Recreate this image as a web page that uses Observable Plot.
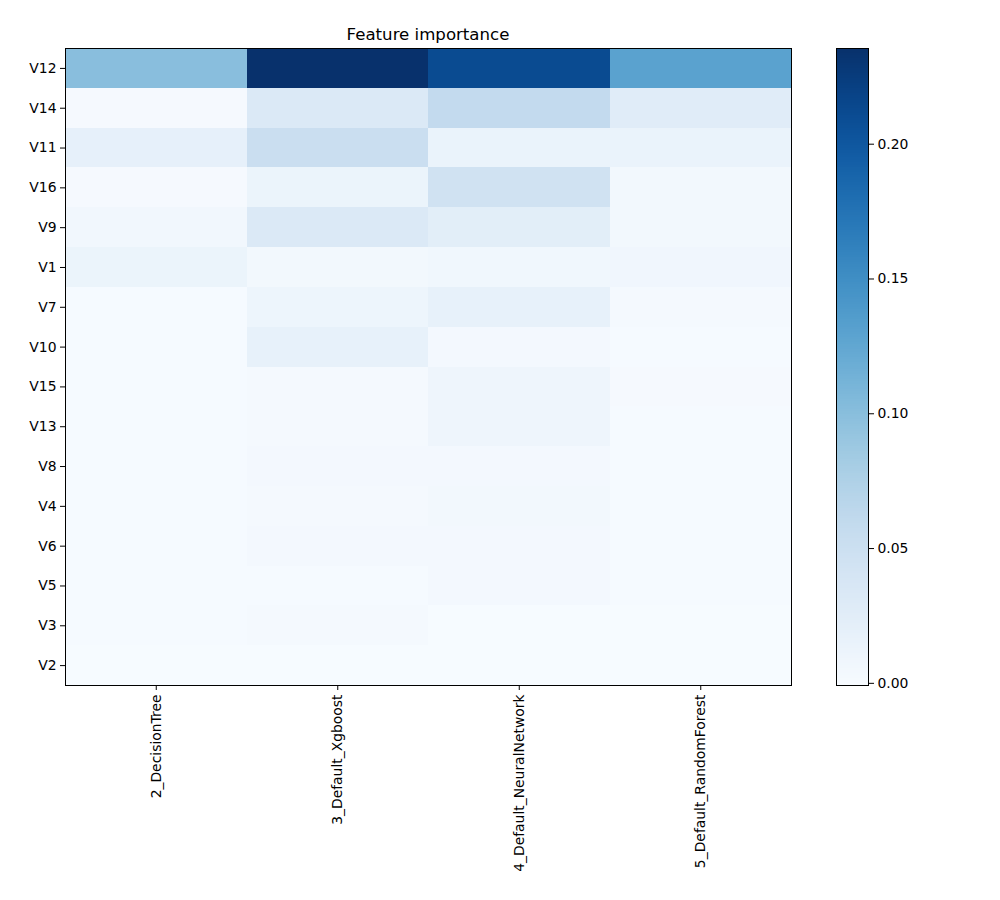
<!DOCTYPE html>
<html>
<head>
<meta charset="utf-8">
<script src="https://cdn.jsdelivr.net/npm/d3@7"></script>
<script src="https://cdn.jsdelivr.net/npm/@observablehq/plot@0.6"></script>
<style>
  body { margin: 0; background: #fff; font-family: "DejaVu Sans", sans-serif; }
  #wrap { position: relative; width: 1000px; height: 900px; }
  #title { position: absolute; left: 65px; width: 726px; top: 25px; text-align: center; font-size: 16.6px; line-height: 20px; color: #000; }
  #main { position: absolute; left: 0; top: 0; }
  #cbar { position: absolute; left: 836px; top: 0; }
</style>
</head>
<body>
<div id="wrap">
  <div id="title">Feature importance</div>
  <div id="main"></div>
  <div id="cbar"></div>
</div>
<script>
const models = ["2_DecisionTree", "3_Default_Xgboost", "4_Default_NeuralNetwork", "5_Default_RandomForest"];
const features = ["V12", "V14", "V11", "V16", "V9", "V1", "V7", "V10", "V15", "V13", "V8", "V4", "V6", "V5", "V3", "V2"];
const decisionTree   = [0.100, 0.002, 0.019, 0.002, 0.006, 0.013, 0.001, 0.001, 0.001, 0.001, 0.001, 0.001, 0.001, 0.001, 0.001, 0.000];
const xgboost        = [0.235, 0.033, 0.052, 0.013, 0.033, 0.005, 0.011, 0.018, 0.003, 0.003, 0.004, 0.003, 0.004, 0.001, 0.003, 0.000];
const neuralNetwork  = [0.211, 0.059, 0.014, 0.045, 0.024, 0.007, 0.018, 0.004, 0.010, 0.010, 0.004, 0.005, 0.004, 0.004, 0.000, 0.000];
const randomForest   = [0.130, 0.026, 0.014, 0.005, 0.005, 0.008, 0.003, 0.001, 0.002, 0.001, 0.001, 0.001, 0.001, 0.001, 0.000, 0.000];
const colorbarTicks = [0, 0.05, 0.10, 0.15, 0.20];

const series = [decisionTree, xgboost, neuralNetwork, randomForest];
const cells = [];
models.forEach((m, i) => features.forEach((f, j) => cells.push({model: m, feature: f, value: series[i][j]})));

const domain = [-0.0008, 0.2355];
const colorOpts = {type: "linear", scheme: "blues", domain};
const font = "DejaVu Sans, sans-serif";

const main = Plot.plot({
  width: 1000, height: 900,
  marginTop: 48, marginLeft: 65, marginRight: 209, marginBottom: 215,
  style: {fontFamily: font, fontSize: "13.9px", color: "#000", background: "transparent"},
  x: {domain: models, padding: 0, round: false, label: null, tickRotate: -90, tickSize: 5, tickPadding: 4},
  y: {domain: features, padding: 0, round: false, label: null, tickSize: 5, tickPadding: 4},
  color: colorOpts,
  marks: [
    Plot.cell(cells, {x: "model", y: "feature", fill: "value", inset: 0, shapeRendering: "crispEdges"}),
    Plot.frame({stroke: "black", strokeWidth: 1})
  ]
});
document.getElementById("main").appendChild(main);

// colorbar
const steps = d3.range(256).map(i => {
  const a = domain[0] + (domain[1] - domain[0]) * i / 256;
  const b = domain[0] + (domain[1] - domain[0]) * (i + 1) / 256;
  return {y1: a, y2: b, v: (a + b) / 2};
});
const cbar = Plot.plot({
  width: 120, height: 900,
  marginTop: 48, marginBottom: 215, marginLeft: 0, marginRight: 88,
  style: {fontFamily: font, fontSize: "13.9px", color: "#000", background: "transparent"},
  x: {domain: [0, 1], axis: null},
  y: {domain, axis: "right", ticks: colorbarTicks, tickFormat: d3.format(".2f"), label: null, tickSize: 5, tickPadding: 4},
  color: colorOpts,
  marks: [
    Plot.rectY(steps, {x1: 0, x2: 1, y1: "y1", y2: "y2", fill: "v", shapeRendering: "crispEdges"}),
    Plot.frame({stroke: "black", strokeWidth: 1})
  ]
});
document.getElementById("cbar").appendChild(cbar);
</script>
</body>
</html>
